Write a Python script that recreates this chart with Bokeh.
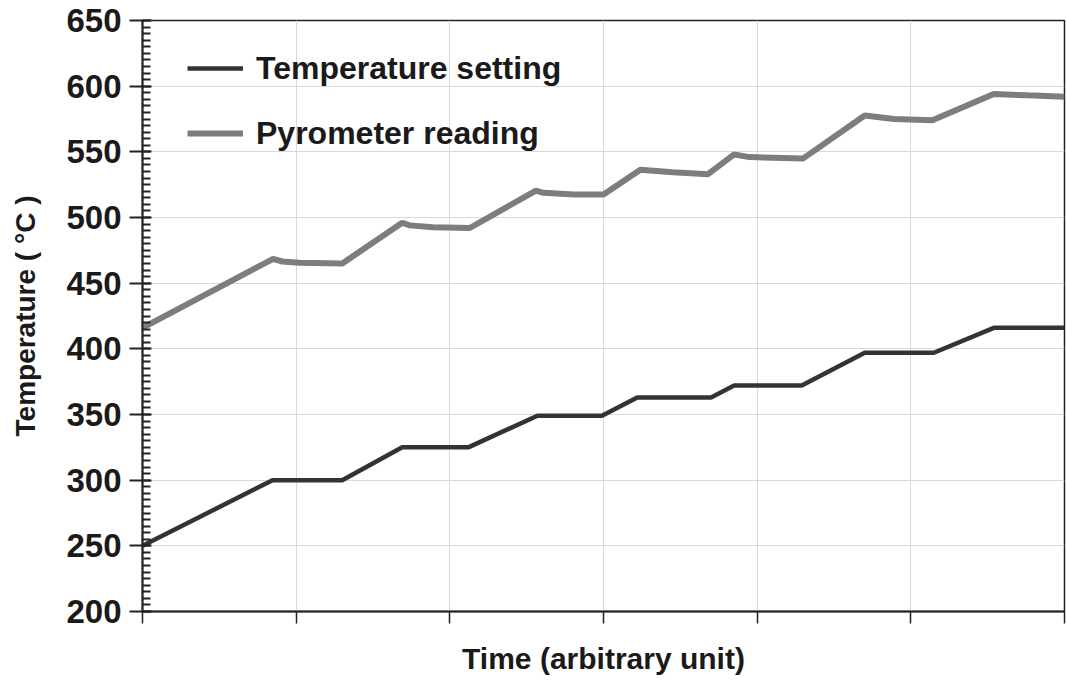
from bokeh.plotting import figure
from bokeh.models import SingleIntervalTicker, Legend, LegendItem, Range1d
from bokeh.embed import file_html
from bokeh.resources import INLINE

# Time axis in arbitrary units
set_time = [0, 8.46, 13.0, 16.9, 21.2, 25.7, 29.9, 32.2, 37.0, 38.5, 42.9, 47.0, 51.5, 55.4, 60]
set_temp = [250, 300, 300, 325, 325, 349, 349, 363, 363, 372, 372, 397, 397, 416, 416]

pyro_time = [0, 8.5, 9.1, 10.2, 13.0, 16.9, 17.4, 18.9, 21.3, 25.6, 26.1, 28.1, 30.0,
             32.4, 34.5, 36.8, 38.5, 39.5, 43.0, 47.0, 48.9, 51.4, 55.4, 57.6, 60]
pyro_temp = [416, 468.5, 466.5, 465.5, 465, 496, 494, 492.5, 492, 520.5, 518.8, 517.5, 517.5,
             536.3, 534.5, 533, 548, 546, 545, 577.7, 575, 574, 594, 593, 592]

time_ticks = [0, 10, 20, 30, 40, 50, 60]

FONT = "Liberation Sans"

p = figure(width=1066, height=682, output_backend="svg", toolbar_location=None,
           x_range=Range1d(0, 60), y_range=Range1d(200, 650),
           min_border_left=142, min_border_right=2, min_border_top=20, min_border_bottom=71)

p.outline_line_color = "#222222"
p.outline_line_width = 1.5
p.background_fill_color = "white"
p.border_fill_color = "white"

# grid
p.xgrid.ticker = SingleIntervalTicker(interval=10)
p.ygrid.ticker = SingleIntervalTicker(interval=50)
p.xgrid.grid_line_color = "#d9d9d9"
p.ygrid.grid_line_color = "#d9d9d9"

# y axis
p.yaxis.ticker = SingleIntervalTicker(interval=50, num_minor_ticks=10)
p.yaxis.axis_label = "Temperature ( °C )"
p.yaxis.axis_line_color = "#222222"
p.yaxis.axis_line_width = 2
p.yaxis.major_tick_line_color = "#222222"
p.yaxis.major_tick_line_width = 2
p.yaxis.major_tick_out = 13
p.yaxis.major_tick_in = 9
p.yaxis.minor_tick_line_color = "#222222"
p.yaxis.minor_tick_line_width = 2
p.yaxis.minor_tick_out = 0
p.yaxis.minor_tick_in = 8
p.yaxis.major_label_standoff = 8
p.yaxis.major_label_text_font = FONT
p.yaxis.major_label_text_font_style = "bold"
p.yaxis.major_label_text_font_size = "33px"
p.yaxis.major_label_text_color = "#1a1a1a"
p.yaxis.axis_label_text_font = FONT
p.yaxis.axis_label_text_font_style = "bold"
p.yaxis.axis_label_text_font_size = "28px"
p.yaxis.axis_label_text_color = "#1a1a1a"
p.yaxis.axis_label_standoff = 22

# x axis: ticks only, no numbers
p.xaxis.ticker = time_ticks
p.xaxis.major_label_overrides = {t: "" for t in time_ticks}
p.xaxis.axis_label = "Time (arbitrary unit)"
p.xaxis.axis_line_color = "#222222"
p.xaxis.axis_line_width = 2
p.xaxis.major_tick_line_color = "#222222"
p.xaxis.major_tick_line_width = 1.5
p.xaxis.major_tick_out = 12
p.xaxis.major_tick_in = 0
p.xaxis.minor_tick_line_color = None
p.xaxis.major_label_standoff = 0
p.xaxis.axis_label_text_font = FONT
p.xaxis.axis_label_text_font_style = "bold"
p.xaxis.axis_label_text_font_size = "30px"
p.xaxis.axis_label_text_color = "#1a1a1a"
p.xaxis.axis_label_standoff = 18

r_set = p.line(set_time, set_temp, line_color="#333333", line_width=4.5)
r_pyro = p.line(pyro_time, pyro_temp, line_color="#7d7d7d", line_width=6)

legend = Legend(items=[LegendItem(label="Temperature setting", renderers=[r_set]),
                       LegendItem(label="Pyrometer reading", renderers=[r_pyro])],
                location=(45, 458), padding=0, margin=0, spacing=25,
                glyph_width=56, glyph_height=40, label_height=40, label_standoff=13,
                label_text_font=FONT, label_text_font_style="bold",
                label_text_font_size="32px", label_text_color="#1a1a1a",
                border_line_alpha=0, background_fill_alpha=0)
p.add_layout(legend)

open("out.html", "w").write(file_html(p, INLINE))
